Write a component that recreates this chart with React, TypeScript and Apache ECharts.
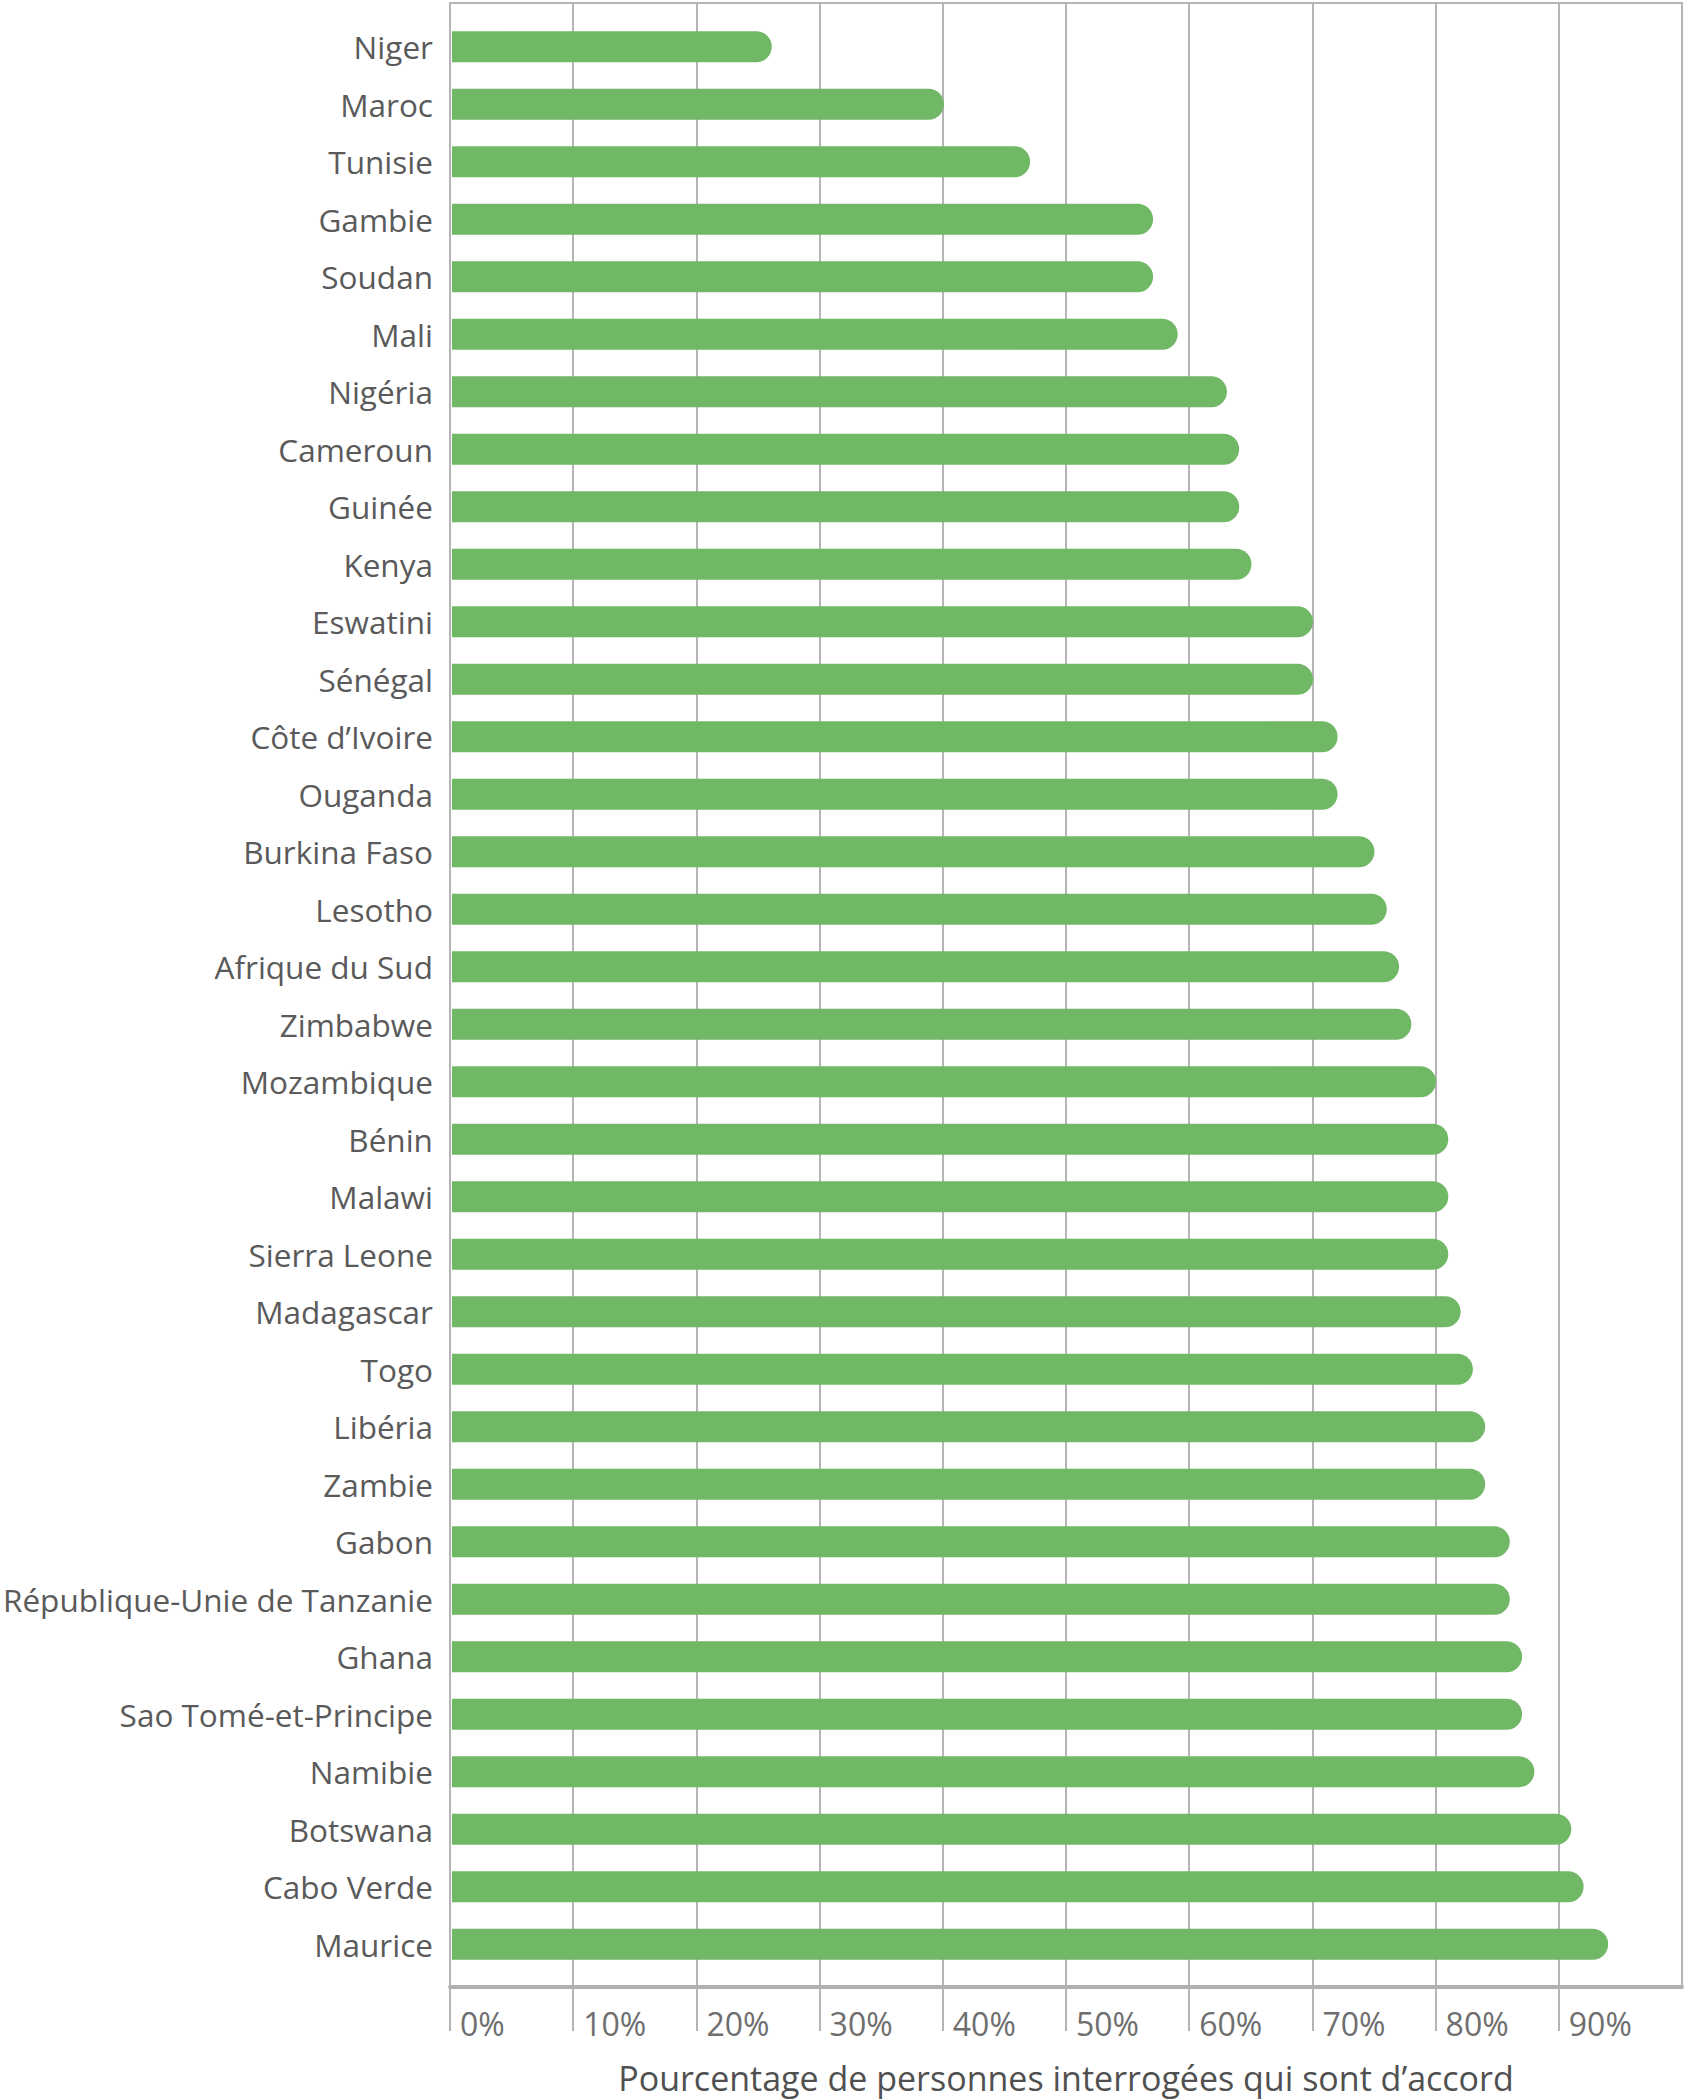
import React, { useEffect, useRef } from "react";
import * as echarts from "echarts";

const categories = [
  "Niger", "Maroc", "Tunisie", "Gambie", "Soudan", "Mali", "Nigéria", "Cameroun", "Guinée", "Kenya",
  "Eswatini", "Sénégal", "Côte d’Ivoire", "Ouganda", "Burkina Faso", "Lesotho", "Afrique du Sud", "Zimbabwe",
  "Mozambique", "Bénin", "Malawi", "Sierra Leone", "Madagascar", "Togo", "Libéria", "Zambie", "Gabon",
  "République-Unie de Tanzanie", "Ghana", "Sao Tomé-et-Principe", "Namibie", "Botswana", "Cabo Verde", "Maurice",
];

const agreeValues = [
  26, 40, 47, 57, 57, 59, 63, 64, 64, 65,
  70, 70, 72, 72, 75, 76, 77, 78,
  80, 81, 81, 81, 82, 83, 84, 84, 86,
  86, 87, 87, 88, 91, 92, 94,
];

const axisTitle = "Pourcentage de personnes interrogées qui sont d’accord";

const FONT = "'Open Sans', 'Noto Sans', sans-serif";
const GRID_GRAY = "#b5b5b5";

export default function App() {
  const ref = useRef<HTMLDivElement>(null);
  useEffect(() => {
    if (!ref.current) return;
    const chart = echarts.init(ref.current, null, { renderer: "svg" });
    chart.setOption({
      animation: false,
      backgroundColor: "#ffffff",
      grid: [
        { left: 450, top: 18, width: 1232, height: 1955, containLabel: false },
        {
          left: 450, top: 3, width: 1232, height: 1985, containLabel: false,
          show: true, borderColor: GRID_GRAY, borderWidth: 2,
        },
      ],
      xAxis: [
        { type: "value", gridIndex: 0, min: 0, max: 100, interval: 10, show: false },
        {
          type: "value", gridIndex: 1, min: 0, max: 100, interval: 10,
          splitLine: { show: true, lineStyle: { color: GRID_GRAY, width: 2 } },
          axisLine: { show: true, lineStyle: { color: "#b0b0b0", width: 4 } },
          axisTick: { show: true, length: 44, lineStyle: { color: GRID_GRAY, width: 2 } },
          axisLabel: {
            show: true, formatter: "{value}%", showMaxLabel: false, align: "left",
            margin: 20, padding: [0, 0, 0, 10], fontSize: 32, color: "#6e6e6e", fontFamily: FONT,
          },
          name: axisTitle, nameLocation: "middle", nameGap: 74,
          nameTextStyle: { fontSize: 34, color: "#505050", fontFamily: FONT },
        },
      ],
      yAxis: [
        {
          type: "category", gridIndex: 0, data: categories, inverse: true,
          axisLine: { show: false }, axisTick: { show: false }, splitLine: { show: false },
          axisLabel: { margin: 19, fontSize: 31.5, color: "#5a5a5a", fontFamily: FONT },
        },
        { type: "value", gridIndex: 1, show: false, min: 0, max: 1 },
      ],
      series: [
        {
          type: "bar", xAxisIndex: 0, yAxisIndex: 0, data: agreeValues,
          barWidth: 31,
          itemStyle: { color: "#71b866", borderRadius: [0, 15.5, 15.5, 0] },
          z: 3,
        },
      ],
    });
    return () => chart.dispose();
  }, []);
  return (
    <div
      ref={ref}
      style={{ position: "absolute", left: 0, top: 0, width: 1684, height: 2100 }}
    />
  );
}
